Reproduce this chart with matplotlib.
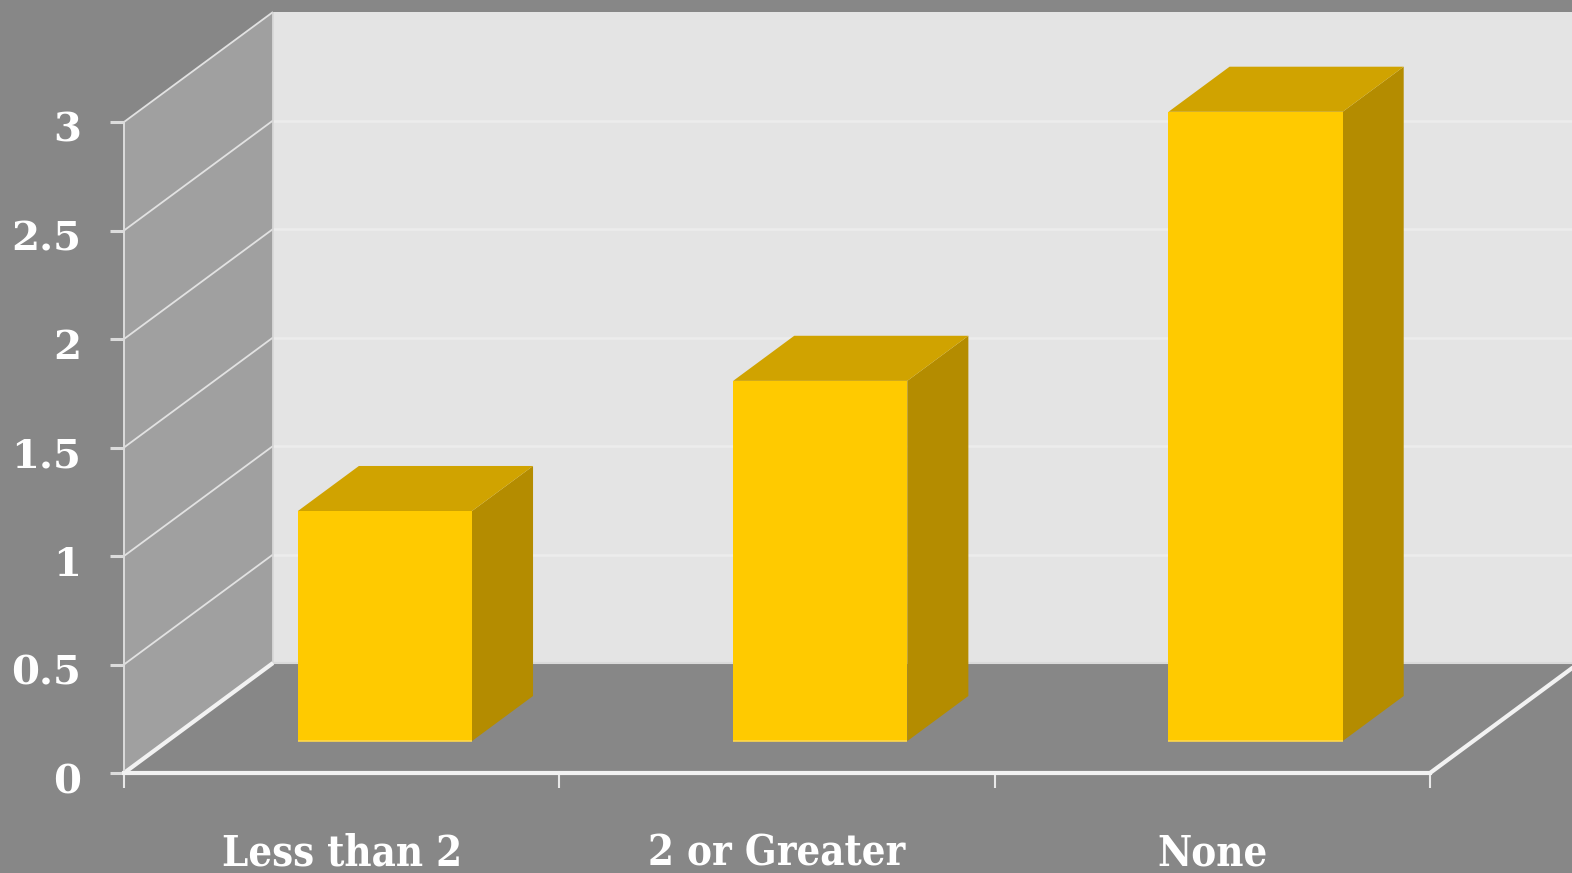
import matplotlib
matplotlib.use("Agg")
import matplotlib.pyplot as plt
from matplotlib.patches import Polygon
from matplotlib.transforms import ScaledTranslation

# ---- data ----
categories = ["Less than 2", "2 or Greater", "None"]
values = [1.06, 1.66, 2.90]
y_ticks = [0, 0.5, 1, 1.5, 2, 2.5, 3]
y_tick_labels = ["0", "0.5", "1", "1.5", "2", "2.5", "3"]

# ---- style ----
BG = "#878787"
SIDE_WALL = "#a0a0a0"
BACK_WALL = "#e4e4e4"
FRONT = "#ffca00"
TOP = "#d0a300"
SIDE = "#b48c00"
FONT_CAT = dict(family="DejaVu Serif", weight="bold", stretch="condensed")
FONT_NUM = dict(family="DejaVu Serif", weight="bold")

W, H = 1572, 873
fig = plt.figure(figsize=(W / 100, H / 100), dpi=100, facecolor=BG)
ax = fig.add_axes([124 / W, 1 - 773 / H, (1430 - 124) / W, (773 - 122) / H])
ncat = len(categories)
ymax = y_ticks[-1]
ax.set_xlim(0, ncat)
ax.set_ylim(0, ymax)
ax.patch.set_visible(False)

# oblique depth vector in data units
DX = 149 / ((1430 - 124) / ncat)
DY = 110 / ((773 - 122) / ymax)


def P(x, y, t):
    return (x + DX * t, y + DY * t)


def poly(pts, color, z, **kw):
    ax.add_patch(Polygon(pts, closed=True, facecolor=color, edgecolor="none",
                         zorder=z, clip_on=False, **kw))


def line(p0, p1, color, lw, z):
    ax.plot([p0[0], p1[0]], [p0[1], p1[1]], color=color, lw=lw, zorder=z,
            clip_on=False, solid_capstyle="butt")


# walls
poly([P(0, 0, 0), P(0, 0, 1), P(0, ymax, 1), P(0, ymax, 0)], SIDE_WALL, 1)
poly([P(0, 0, 1), P(ncat, 0, 1), P(ncat, ymax, 1), P(0, ymax, 1)], BACK_WALL, 1)

# gridlines on walls
for v in y_ticks[1:]:
    line(P(0, v, 0), P(0, v, 1), "#e2e2e2", 1.3, 1.5)
for v in y_ticks[1:-1]:
    line(P(0, v, 1), P(ncat, v, 1), "#ececec", 1.8, 1.5)
line(P(0, 0, 1), P(ncat, 0, 1), "#dadada", 1.5, 1.5)
line(P(0, 0, 1), P(0, ymax, 1), "#d8d8d8", 1.3, 1.5)

# floor depth edges
line(P(0, 0, 0), P(0, 0, 1), "#f2f2f2", 3.0, 2)
line(P(ncat, 0, 0), P(ncat, 0, 1), "#f2f2f2", 3.0, 2)

# bars
half_w = 0.2
t1, t2 = 0.29, 0.70
for i, v in enumerate(values):
    x0, x1 = i + 0.5 - half_w, i + 0.5 + half_w
    poly([P(x1, 0, t1), P(x1, 0, t2), P(x1, v, t2), P(x1, v, t1)], SIDE, 3)
    poly([P(x0, v, t1), P(x1, v, t1), P(x1, v, t2), P(x0, v, t2)], TOP, 3)
    poly([P(x0, 0, t1), P(x1, 0, t1), P(x1, v, t1), P(x0, v, t1)], FRONT, 3.1)
    line(P(x0, 0, t1), P(x1, 0, t1), "#ffd84a", 1.2, 3.2)

# axes spines / ticks
for s in ("top", "right"):
    ax.spines[s].set_visible(False)
ax.spines["left"].set_color("#dcdcdc")
ax.spines["left"].set_linewidth(1.4)
ax.spines["bottom"].set_color("#f2f2f2")
ax.spines["bottom"].set_linewidth(3.0)
ax.spines["left"].set_zorder(4)
ax.spines["bottom"].set_zorder(4)

ax.set_yticks(y_ticks, y_tick_labels)
ax.tick_params(axis="y", direction="out", length=10, width=2.2, color="#dcdcdc",
               labelcolor="white", pad=21)
shift = ScaledTranslation(0, -5 / 100, fig.dpi_scale_trans)
for lab in ax.get_yticklabels():
    lab.set(fontsize=29, **FONT_NUM)
    lab.set_transform(lab.get_transform() + shift)

ax.set_xticks(range(ncat + 1))
ax.set_xticklabels([""] * (ncat + 1))
ax.tick_params(axis="x", which="major", direction="out", length=10.5, width=1.5,
               color="#e8e8e8")
ax.set_xticks([i + 0.5 for i in range(ncat)], minor=True)
ax.set_xticklabels(categories, minor=True)
ax.tick_params(axis="x", which="minor", length=0, labelcolor="white", pad=43)
for lab in ax.get_xticklabels(minor=True):
    lab.set(fontsize=30, **FONT_CAT)

fig.savefig("out.png", dpi=100, facecolor=BG)
